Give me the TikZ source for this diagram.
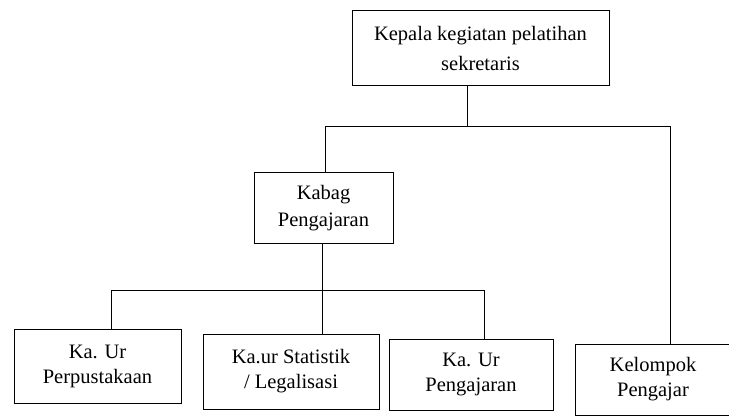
\documentclass[tikz,border=0pt]{standalone}
\usepackage{fontspec}
\setmainfont{Liberation Serif}
\begin{document}
\begin{tikzpicture}[x=1pt,y=1pt,
  unit/.style={draw, line width=1pt, align=center, inner sep=0pt,
    font=\fontsize{20.5}{25}\selectfont},
  link/.style={line width=1pt}]
\useasboundingbox (0,0) rectangle (729,416);
% boxes (y measured from the bottom edge)
\node[unit, minimum width=257, minimum height=75,
  font=\fontsize{20.5}{30}\selectfont] (head) at (480.5,368)
  {Kepala kegiatan pelatihan\\sekretaris};
\node[unit, minimum width=139, minimum height=71,
  font=\fontsize{20.5}{27}\selectfont] (kabag) at (323.5,208)
  {Kabag\\Pengajaran};
\node[unit, minimum width=167, minimum height=74] (perpus) at (97.5,50)
  {Ka. Ur\\Perpustakaan};
\node[unit, minimum width=176, minimum height=75] (statis) at (291,44.5)
  {Ka.ur Statistik\\/ Legalisasi};
\node[unit, minimum width=164, minimum height=71] (ajar) at (471,41.5)
  {Ka. Ur\\Pengajaran};
\node[unit, minimum width=156, minimum height=71] (kelompok) at (653,36.5)
  {Kelompok\\Pengajar};
% branching points
\coordinate (bus1) at (467,289);
\coordinate (bus1l) at (325,289);
\coordinate (bus1r) at (670,289);
\coordinate (bus2) at (322,126);
\coordinate (bus2l) at (111,126);
\coordinate (bus2r) at (484,126);
% connectors
\draw[link] (head.south -| bus1) -- (bus1);
\draw[link] (kabag.north -| bus1l) -- (bus1l) -- (bus1r) -- (kelompok.north -| bus1r);
\draw[link] (kabag.south -| bus2) -- (bus2);
\draw[link] (perpus.north -| bus2l) -- (bus2l) -- (bus2r) -- (ajar.north -| bus2r);
\draw[link] (bus2) -- (statis.north -| bus2);
\end{tikzpicture}
\end{document}
